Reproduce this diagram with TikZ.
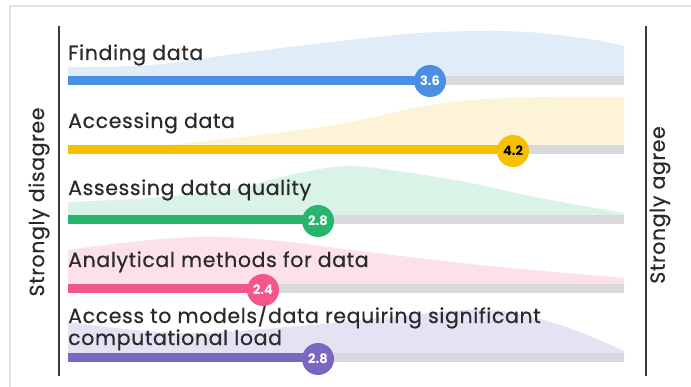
\documentclass[tikz,border=0pt]{standalone}
\usepackage{fontspec}
\setmainfont{Poppins}[FakeBold=0.5, LetterSpace=3]
\newfontfamily\numfont{Poppins}
\definecolor{frame}{HTML}{E2E2E2}
\definecolor{axis}{HTML}{3A3A3A}
\definecolor{txt}{HTML}{2A2A2A}
\definecolor{track}{HTML}{D9D9DD}
\definecolor{cblue}{HTML}{4A8FE3}
\definecolor{ablue}{HTML}{E1ECF9}
\definecolor{cyel}{HTML}{F7C000}
\definecolor{ayel}{HTML}{FDF3D7}
\definecolor{cgreen}{HTML}{27B56B}
\definecolor{agreen}{HTML}{DAF3E7}
\definecolor{cpink}{HTML}{F2578A}
\definecolor{apink}{HTML}{FCE1E9}
\definecolor{cpurp}{HTML}{7A67C2}
\definecolor{apurp}{HTML}{E4E2F3}
\begin{document}
\begin{tikzpicture}[x=1pt,y=-1pt,
  lbl/.style={anchor=base west, inner sep=0pt, text=txt, font=\fontsize{20.5}{22}\selectfont},
  axlbl/.style={rotate=90, inner sep=0pt, text=txt, font=\fontsize{20.5}{22}\selectfont},
  val/.style={circle, minimum size=32pt, inner sep=0pt, text=white, font=\numfont\fontsize{13}{13}\selectfont\bfseries},
  axisline/.style={draw=axis, line width=1.2pt}]
\useasboundingbox (0,0) rectangle (691,387);
\fill[white] (0,0) rectangle (691,387);
\draw[frame, line width=1.5pt] (10,6) rectangle (705,400);
% axes
\coordinate (lt) at (59,26); \coordinate (lb) at (59,376);
\coordinate (rt) at (646,26); \coordinate (rb) at (646,376);
\draw[axisline] (lt) -- (lb);
\draw[axisline] (rt) -- (rb);
\node[axlbl] (dis) at (39,202) {Strongly disagree};
\node[axlbl] (agr) at (660,205) {Strongly agree};
% densities
\fill[ablue] (68,80) -- plot[smooth, tension=0.6] coordinates {(68,67) (150,65) (250,52) (340,41) (420,33) (490,31) (540,33) (595,40) (624,46)} -- (624,80) -- cycle;
\fill[ayel] (165,150) -- plot[smooth, tension=0.6] coordinates {(170,145) (250,136) (340,124) (420,107) (470,100) (550,97) (624,97)} -- (624,150) -- cycle;
\fill[agreen] (68,219) -- plot[smooth, tension=0.6] coordinates {(68,202) (150,198) (230,190) (285,176) (335,167) (375,168) (460,181) (540,198) (624,213)} -- (624,219) -- cycle;
\fill[apink] (68,288) -- plot[smooth, tension=0.6] coordinates {(68,250) (130,242) (200,237) (270,240) (360,251) (480,265) (624,278)} -- (624,288) -- cycle;
\fill[apurp] (68,357) -- plot[smooth, tension=0.6] coordinates {(68,322) (180,333) (300,326) (400,316) (490,310) (560,325) (624,351)} -- (624,357) -- cycle;
% labels
\node[lbl] (l1) at (68,60) {Finding data};
\node[lbl] (l2) at (68,128) {Accessing data};
\node[lbl] (l3) at (68,195) {Assessing data quality};
\node[lbl] (l4) at (68,267) {Analytical methods for data};
\node[lbl] (l5) at (68,323) {Access to models/data requiring significant};
\node[lbl] (l6) at (68,345) {computational load};
% bars
\fill[track] (68,76) rectangle (624,85);
\fill[cblue] (68,76) rectangle (430,85);
\node[val, fill=cblue] (v1) at (430,81) {3.6};
\fill[track] (68,145) rectangle (624,154);
\fill[cyel] (68,145) rectangle (513,154);
\node[val, fill=cyel, text=black] (v2) at (513,151) {4.2};
\fill[track] (68,215) rectangle (624,224);
\fill[cgreen] (68,215) rectangle (318,224);
\node[val, fill=cgreen] (v3) at (318,221) {2.8};
\fill[track] (68,284) rectangle (624,293);
\fill[cpink] (68,284) rectangle (263,293);
\node[val, fill=cpink] (v4) at (263,290) {2.4};
\fill[track] (68,353) rectangle (624,362);
\fill[cpurp] (68,353) rectangle (318,362);
\node[val, fill=cpurp] (v5) at (318,359) {2.8};
\end{tikzpicture}
\end{document}
